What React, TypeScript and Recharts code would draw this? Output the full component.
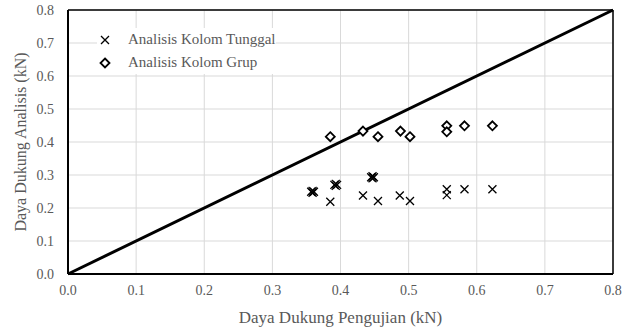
import React from 'react';
import {
  ScatterChart,
  Scatter,
  XAxis,
  YAxis,
  CartesianGrid,
  ReferenceLine,
} from 'recharts';

// Nilai (kN)
const axisTicks = [0, 0.1, 0.2, 0.3, 0.4, 0.5, 0.6, 0.7, 0.8];

const tunggalX = [
  0.357, 0.361, 0.359, 0.359,
  0.391, 0.395, 0.393, 0.393,
  0.445, 0.449, 0.447, 0.447,
  0.385, 0.433, 0.455, 0.487, 0.502, 0.556, 0.556, 0.582, 0.623,
];
const tunggalY = [
  0.249, 0.249, 0.246, 0.252,
  0.27, 0.27, 0.267, 0.273,
  0.293, 0.293, 0.29, 0.296,
  0.219, 0.238, 0.221, 0.238, 0.221, 0.257, 0.239, 0.257, 0.257,
];

const grupX = [0.385, 0.433, 0.455, 0.488, 0.502, 0.556, 0.556, 0.582, 0.623];
const grupY = [0.416, 0.433, 0.416, 0.433, 0.416, 0.449, 0.431, 0.449, 0.449];

const seriesNames = ['Analisis Kolom Tunggal', 'Analisis Kolom Grup'];

const tunggalData = tunggalX.map((x, i) => ({ x, y: tunggalY[i] }));
const grupData = grupX.map((x, i) => ({ x, y: grupY[i] }));

const FONT = '"Liberation Serif", "Times New Roman", serif';
const TEXT = '#595959';

const CrossShape = (props: any) => {
  const { cx, cy } = props;
  const r = 4;
  return (
    <path
      d={`M${cx - r},${cy - r}L${cx + r},${cy + r}M${cx + r},${cy - r}L${cx - r},${cy + r}`}
      stroke="#000"
      strokeWidth={1.3}
      fill="none"
    />
  );
};

const DiamondShape = (props: any) => {
  const { cx, cy } = props;
  const r = 4.5;
  return (
    <path
      d={`M${cx},${cy - r}L${cx + r},${cy}L${cx},${cy + r}L${cx - r},${cy}Z`}
      stroke="#000"
      strokeWidth={1.8}
      fill="#fff"
    />
  );
};

export default function App() {
  return (
    <div style={{ width: 636, height: 329, background: '#fff', position: 'relative', fontFamily: FONT }}>
      <style>{`body{margin:0} .recharts-text{font-family:${FONT};}`}</style>
      <ScatterChart
        width={636}
        height={329}
        margin={{ top: 10, right: 23, bottom: 0, left: 0 }}
        style={{ fontFamily: FONT }}
      >
        <CartesianGrid stroke="#d9d9d9" strokeWidth={1} />
        <XAxis
          type="number"
          dataKey="x"
          domain={[0, 0.8]}
          ticks={axisTicks}
          tickFormatter={(v: number) => v.toFixed(1)}
          tickSize={0}
          tickMargin={11}
          height={55}
          axisLine={{ stroke: '#000', strokeWidth: 2 }}
          tick={{ fill: TEXT, fontSize: 14 }}
          label={{
            value: 'Daya Dukung Pengujian (kN)',
            position: 'insideBottom',
            offset: 6,
            fill: TEXT,
            fontSize: 17,
          }}
        />
        <YAxis
          type="number"
          dataKey="y"
          domain={[0, 0.8]}
          ticks={axisTicks}
          tickFormatter={(v: number) => v.toFixed(1)}
          tickSize={0}
          tickMargin={14}
          width={68}
          axisLine={{ stroke: '#000', strokeWidth: 2 }}
          tick={{ fill: TEXT, fontSize: 14 }}
          label={{
            value: 'Daya Dukung Analisis (kN)',
            angle: -90,
            position: 'insideLeft',
            offset: 20,
            style: { textAnchor: 'middle' },
            fill: TEXT,
            fontSize: 16,
          }}
        />
        <ReferenceLine y={0.8} stroke="#000" strokeWidth={1.5} />
        <ReferenceLine x={0.8} stroke="#000" strokeWidth={1.5} />
        <ReferenceLine
          segment={[{ x: 0, y: 0 }, { x: 0.8, y: 0.8 }]}
          stroke="#000"
          strokeWidth={3}
        />
        <Scatter
          name={seriesNames[0]}
          data={tunggalData}
          shape={<CrossShape />}
          isAnimationActive={false}
        />
        <Scatter
          name={seriesNames[1]}
          data={grupData}
          shape={<DiamondShape />}
          isAnimationActive={false}
        />
      </ScatterChart>
      <div
        style={{
          position: 'absolute',
          left: 97,
          top: 28,
          fontSize: 15,
          color: TEXT,
          lineHeight: '23px',
          background: '#fff',
        }}
      >
        <div style={{ display: 'flex', alignItems: 'center' }}>
          <svg width={31} height={12}>
            <CrossShape cx={8} cy={6} />
          </svg>
          <span>{seriesNames[0]}</span>
        </div>
        <div style={{ display: 'flex', alignItems: 'center' }}>
          <svg width={31} height={12}>
            <DiamondShape cx={8} cy={6} />
          </svg>
          <span>{seriesNames[1]}</span>
        </div>
      </div>
    </div>
  );
}
